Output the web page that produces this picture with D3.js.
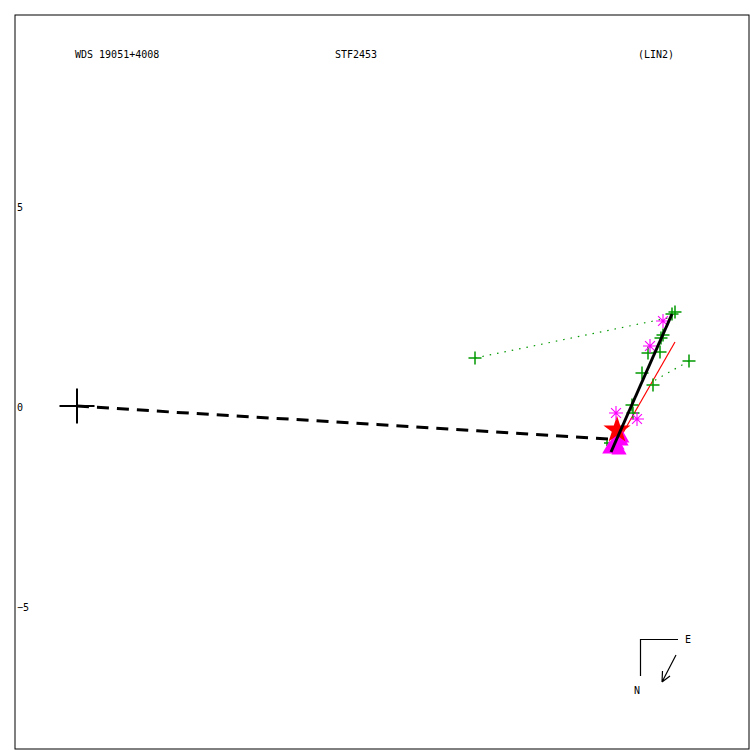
<!DOCTYPE html>
<html><head><meta charset="utf-8">
<script src="https://cdn.jsdelivr.net/npm/d3@7"></script>
<style>body{margin:0;background:#fff}svg{display:block}text{font-family:"DejaVu Sans Mono",monospace;font-size:10px;fill:#000}</style>
</head><body><svg id="c" width="750" height="750"></svg>
<script>
// ---- data (units: arcsec) ----
const titles = [{t:"WDS 19051+4008",x:-0.05},{t:"STF2453",x:6.45},{t:"(LIN2)",x:14.025}];
const yTicks = [-5, 0, 5];
const primary = [0, 0];
const primaryPath = [[0,0],[2.5,-0.16],[5,-0.31],[7.5,-0.46],[10,-0.62],[13.375,-0.83]];
const fitLine = [[13.35,-1.15],[14.875,2.3]];
const redLine = [[13.575,-0.8],[14.95,1.6]];
const greenObs = [[9.95,1.2],[15.3,1.125],[14.95,2.35],[14.875,2.3],[14.65,1.775],[14.6,1.7],[14.575,1.35],[14.275,1.325],[14.125,0.825],[14.4,0.525],[13.875,0.025],[13.9,-0.175]];
const greenSmall = [[13.25,-0.925]];
const ocLines = [[[9.95,1.2],[14.775,2.2]],[[15.3,1.125],[14.325,0.575]]];
const magentaAst = [[14.65,2.125],[14.325,1.5],[13.475,-0.175],[14.0,-0.325]];
const magentaTri = [[13.4,-1.05],[13.5,-0.98],[13.6,-0.88],[13.475,-0.85],[13.62,-0.8],[13.32,-1.08],[13.55,-1.1],[13.45,-0.95]];
const redStar = [13.5,-0.6];

const svg = d3.select("#c");
const x = d3.scaleLinear().domain([0,10]).range([77,477]);
const y = d3.scaleLinear().domain([0,5]).range([406,206]);
const line = d3.line().x(d=>x(d[0])).y(d=>y(d[1]));

// frame
svg.append("rect").attr("x",15).attr("y",15).attr("width",734).attr("height",734)
  .attr("fill","none").attr("stroke","#000").attr("stroke-width",1);

// y axis labels
const ax = svg.append("g").attr("transform","translate(15,0)")
  .call(d3.axisRight(y).tickValues(yTicks).tickSize(0).tickPadding(2).tickFormat(d3.format("d")));
ax.select(".domain").remove();
ax.selectAll("text").attr("font-family","DejaVu Sans Mono").attr("font-size",10).attr("dy","0.4em").attr("fill","#000");

// titles
svg.selectAll("text.title").data(titles).join("text").attr("class","title")
  .attr("x",d=>x(d.x)).attr("y",58).text(d=>d.t);

// primary path (dashed)
svg.append("path").attr("d",line(primaryPath)).attr("fill","none").attr("stroke","#000")
  .attr("stroke-width",3).attr("stroke-dasharray","12,8");

// O-C dotted lines
svg.selectAll("path.oc").data(ocLines).join("path").attr("class","oc").attr("d",d=>line(d))
  .attr("fill","none").attr("stroke","#009900").attr("stroke-width",1.2).attr("stroke-dasharray","1.5,6");

// red line
svg.append("path").attr("d",line(redLine)).attr("fill","none").attr("stroke","#ff0000").attr("stroke-width",1.2);

// green plus
const plus = s=>`M${-s},0H${s}M0,${-s}V${s}`;
svg.selectAll("path.gp").data(greenObs).join("path").attr("class","gp")
  .attr("transform",d=>`translate(${x(d[0])},${y(d[1])})`).attr("d",plus(6.5))
  .attr("stroke","#009900").attr("stroke-width",1.5).attr("fill","none");
svg.selectAll("path.gs").data(greenSmall).join("path").attr("class","gs")
  .attr("transform",d=>`translate(${x(d[0])},${y(d[1])})`).attr("d",plus(3))
  .attr("stroke","#009900").attr("stroke-width",1.5).attr("fill","none");

// magenta triangles
const tri = d3.symbol().type(d3.symbolTriangle).size(100);
svg.selectAll("path.mt").data(magentaTri).join("path").attr("class","mt")
  .attr("transform",d=>`translate(${x(d[0])},${y(d[1])})`).attr("d",tri()).attr("fill","#ff00ff");

// red star
svg.append("path").attr("transform",`translate(${x(redStar[0])},${y(redStar[1])})`)
  .attr("d",d3.symbol().type(d3.symbolStar).size(230)()).attr("fill","#ff0000");

// magenta asterisks
const ast = s=>{let p="";for(let i=0;i<4;i++){const a=i*Math.PI/4;p+=`M${-s*Math.cos(a)},${-s*Math.sin(a)}L${s*Math.cos(a)},${s*Math.sin(a)}`;}return p;};
svg.selectAll("path.ma").data(magentaAst).join("path").attr("class","ma")
  .attr("transform",d=>`translate(${x(d[0])},${y(d[1])})`).attr("d",ast(7))
  .attr("stroke","#ff00ff").attr("stroke-width",1.1).attr("fill","none");

// fit line
svg.append("path").attr("d",line(fitLine)).attr("fill","none").attr("stroke","#000").attr("stroke-width",3);

// primary cross
svg.append("path").attr("transform",`translate(${x(primary[0])},${y(primary[1])})`).attr("d",plus(17.5))
  .attr("stroke","#000").attr("stroke-width",2).attr("fill","none");

// compass
const cg = svg.append("g");
cg.append("path").attr("d","M678,639.5H640.5V676").attr("fill","none").attr("stroke","#000").attr("stroke-width",1.2);
cg.append("text").attr("x",685).attr("y",643).text("E");
cg.append("text").attr("x",634).attr("y",694).text("N");
cg.append("path").attr("d","M676,655L662,682M662,682L662.5,671M662,682L670,676").attr("fill","none").attr("stroke","#000").attr("stroke-width",1.2);
</script></body></html>
